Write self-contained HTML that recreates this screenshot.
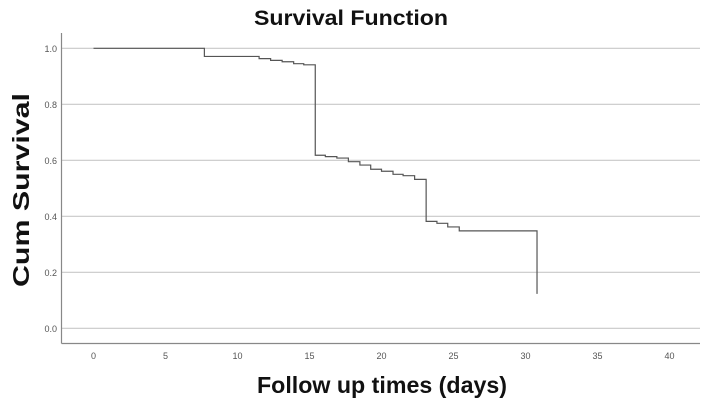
<!DOCTYPE html>
<html><head><meta charset="utf-8"><style>
html,body{margin:0;padding:0;background:#fff;width:706px;height:401px;overflow:hidden}
svg{display:block}
</style></head><body>
<svg id="chart" width="706" height="401" viewBox="0 0 706 401" xmlns="http://www.w3.org/2000/svg" font-family="'Liberation Sans', sans-serif">
<text x="351" y="25" text-anchor="middle" font-size="21" font-weight="bold" textLength="194" lengthAdjust="spacingAndGlyphs" fill="#111">Survival Function</text>
<text transform="translate(29,190) rotate(-90)" text-anchor="middle" font-size="23" font-weight="bold" textLength="194" lengthAdjust="spacingAndGlyphs" fill="#111">Cum Survival</text>
<text x="382" y="393" text-anchor="middle" font-size="23" font-weight="bold" textLength="250" lengthAdjust="spacingAndGlyphs" fill="#111">Follow up times (days)</text>
<g id="grid"></g>
<g id="axes"></g>
<g id="series"></g>
</svg>
<script>
const yTicks = [0.0, 0.2, 0.4, 0.6, 0.8, 1.0];
const xTicks = [0, 5, 10, 15, 20, 25, 30, 35, 40];
const stepTimes = [0, 7.7, 11.5, 12.3, 13.1, 13.9, 14.6, 15.4, 16.1, 16.9, 17.7, 18.5, 19.25, 20.0, 20.8, 21.5, 22.3, 23.1, 23.85, 24.6, 25.4, 30.8];
const survival = [1.0, 0.971, 0.963, 0.957, 0.952, 0.945, 0.941, 0.618, 0.613, 0.608, 0.595, 0.583, 0.568, 0.561, 0.550, 0.545, 0.532, 0.382, 0.375, 0.362, 0.348, 0.123];

const NS = 'http://www.w3.org/2000/svg';
const X0 = 93.5, XS = 14.4, Y0 = 328.3, YS = 280;
const xPos = t => X0 + t * XS;
const yPos = v => Y0 - v * YS;
const plotLeft = 61.5, plotRight = 700, plotTop = 33, plotBottom = 343.5;

function mk(tag, attrs, parent) {
  const e = document.createElementNS(NS, tag);
  for (const k in attrs) e.setAttribute(k, attrs[k]);
  parent.appendChild(e);
  return e;
}
const gridG = document.getElementById('grid');
const axesG = document.getElementById('axes');
const seriesG = document.getElementById('series');

yTicks.forEach(v => {
  const l = mk('line', {x1: plotLeft, x2: plotRight, y1: yPos(v), y2: yPos(v), stroke: '#c8c8c8', 'stroke-width': 1.2}, gridG);
  
  
  const t = mk('text', {x: 57, y: yPos(v) + 3.5, 'text-anchor': 'end', 'font-size': 9, fill: '#555'}, axesG);
  t.textContent = v.toFixed(1);
  
  
});
xTicks.forEach(v => {
  const t = mk('text', {x: xPos(v), y: 359, 'text-anchor': 'middle', 'font-size': 9, fill: '#555'}, axesG);
  t.textContent = String(v);
  
  
});
const ya = mk('line', {x1: plotLeft, x2: plotLeft, y1: plotTop, y2: plotBottom, stroke: '#888', 'stroke-width': 1.2}, axesG);


const xa = mk('line', {x1: plotLeft, x2: plotRight, y1: plotBottom, y2: plotBottom, stroke: '#888', 'stroke-width': 1.2}, axesG);



let d = 'M' + xPos(stepTimes[0]) + ',' + yPos(survival[0]);
for (let i = 1; i < stepTimes.length; i++) {
  d += ' H' + xPos(stepTimes[i]) + ' V' + yPos(survival[i]);
}
const p = mk('path', {d: d, fill: 'none', stroke: '#555', 'stroke-width': 1.2}, seriesG);


</script>
</body></html>
